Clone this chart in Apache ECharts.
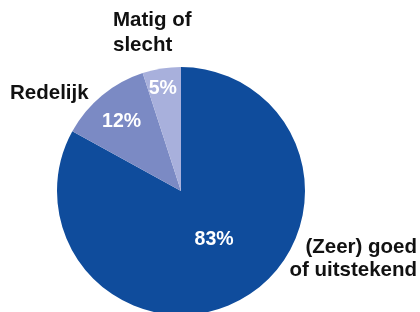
<!DOCTYPE html>
<html>
<head>
<meta charset="utf-8">
<script src="https://cdn.jsdelivr.net/npm/echarts@6/dist/echarts.min.js"></script>
<style>html,body{margin:0;padding:0;background:#fff}#c{width:420px;height:312px}</style>
</head>
<body>
<div id="c"></div>
<script>
var categories = ['(Zeer) goed\nof uitstekend', 'Redelijk', 'Matig of\nslecht'];
var values = [83, 12, 5];
var colors = ['#0f4c9c', '#7b8ac4', '#a8b0dc'];

// label placement (styling only)
var pctOffsets = [[0, -7], [-18, -19], [-8, -38]];
var namePos = [
  {x: 417, y: 259, align: 'right', lh: 23},
  {x: 10, y: 93, align: 'left', lh: 23},
  {x: 113, y: 33, align: 'left', lh: 25}
];

var font = '"Liberation Sans", Arial, sans-serif';
var chart = echarts.init(document.getElementById('c'), null, {renderer: 'canvas'});

var pctData = values.map(function (v, i) {
  return {
    value: v, name: categories[i],
    itemStyle: {color: colors[i]},
    label: {offset: pctOffsets[i]}
  };
});
var nameData = values.map(function (v, i) {
  return {
    value: v, name: categories[i],
    label: {lineHeight: namePos[i].lh, align: namePos[i].align}
  };
});

chart.setOption({
  animation: false,
  series: [
    {
      type: 'pie',
      center: [181, 191],
      radius: [0, 124],
      startAngle: 90,
      clockwise: true,
      silent: true,
      itemStyle: {borderWidth: 0},
      label: {
        show: true, position: 'inside',
        formatter: '{c}%',
        color: '#fff', fontFamily: font, fontWeight: 'bold', fontSize: 19.5
      },
      labelLine: {show: false},
      data: pctData
    },
    {
      type: 'pie',
      center: [181, 191],
      radius: [0, 124],
      startAngle: 90,
      clockwise: true,
      silent: true,
      itemStyle: {color: 'rgba(0,0,0,0)', borderWidth: 0},
      label: {
        show: true, position: 'outside', overflow: 'none',
        formatter: '{b}',
        color: '#111', fontFamily: font, fontWeight: 'bold', fontSize: 20.5
      },
      labelLine: {show: false},
      labelLayout: function (p) {
        var n = namePos[p.dataIndex];
        return {x: n.x, y: n.y, align: n.align, verticalAlign: 'middle', hideOverlap: false, moveOverlap: null};
      },
      data: nameData
    }
  ]
});
</script>
</body>
</html>
